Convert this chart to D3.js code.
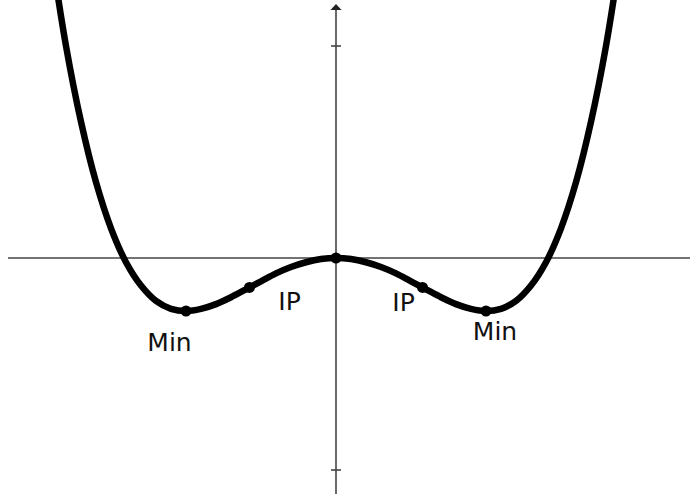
<!DOCTYPE html>
<html><head><meta charset="utf-8">
<script src="https://cdn.jsdelivr.net/npm/d3@7"></script>
<style>html,body{margin:0;padding:0;background:#fff;}svg{display:block;}</style>
</head><body>
<script>
// curve sample points (x, y in plot units)
const curveX = [-1.9,-1.8,-1.7,-1.6,-1.5,-1.4,-1.3,-1.2,-1.1,-1.0,-0.9,-0.8,-0.7,-0.6,-0.5,-0.4,-0.3,-0.2,-0.1,0,
                0.1,0.2,0.3,0.4,0.5,0.6,0.7,0.8,0.9,1.0,1.1,1.2,1.3,1.4,1.5,1.6,1.7,1.8,1.9];
const curveY = [5.8,4.0,2.57,1.43,0.56,-0.08,-0.52,-0.81,-0.96,-1.0,-0.96,-0.87,-0.74,-0.59,-0.44,-0.29,-0.17,-0.08,-0.02,0,
                -0.02,-0.08,-0.17,-0.29,-0.44,-0.59,-0.74,-0.87,-0.96,-1.0,-0.96,-0.81,-0.52,-0.08,0.56,1.43,2.57,4.0,5.8];
// marked points
const markX = [-1, -0.577, 0, 0.577, 1];
const markY = [-1, -0.556, 0, -0.556, -1];
// labels
const labelText = ["Min", "IP", "IP", "Min"];
const labelX = [-1.11, -0.31, 0.45, 1.06];
const labelY = [-1.76, -0.98, -1.0, -1.55];
const yTicks = [-4, 4];

const W = 690, H = 494;
const svg = d3.select("body").append("svg").attr("width", W).attr("height", H);
const x = d3.scaleLinear().domain([-2.24, 2.36]).range([0, 690]);
const y = d3.scaleLinear().domain([4.868, -4.453]).range([0, 494]);

const axisColor = "#444";
svg.append("line").attr("x1", 8).attr("x2", W).attr("y1", y(0)).attr("y2", y(0))
  .attr("stroke", axisColor).attr("stroke-width", 1.6);
svg.append("line").attr("x1", x(0)).attr("x2", x(0)).attr("y1", 8).attr("y2", H)
  .attr("stroke", axisColor).attr("stroke-width", 1.6);
svg.append("path").attr("d", `M${x(0)},4 L${x(0)-5.5},10 L${x(0)+5.5},10 Z`).attr("fill", "#222");
svg.selectAll(".tick").data(yTicks).enter().append("line")
  .attr("x1", x(0)-5).attr("x2", x(0)+5).attr("y1", d => y(d)).attr("y2", d => y(d))
  .attr("stroke", axisColor).attr("stroke-width", 1.6);

const pts = curveX.map((v, i) => [v, curveY[i]]);
const line = d3.line().x(d => x(d[0])).y(d => y(d[1])).curve(d3.curveCatmullRom);
svg.append("path").attr("d", line(pts)).attr("fill", "none").attr("stroke", "#000")
  .attr("stroke-width", 6.5).attr("stroke-linecap", "round");

svg.selectAll(".pt").data(markX).enter().append("circle")
  .attr("cx", d => x(d)).attr("cy", (d, i) => y(markY[i])).attr("r", 5.5).attr("fill", "#000");

svg.selectAll(".lbl").data(labelText).enter().append("text")
  .attr("x", (d, i) => x(labelX[i])).attr("y", (d, i) => y(labelY[i]))
  .attr("text-anchor", "middle")
  .attr("font-family", "DejaVu Sans, sans-serif").attr("font-size", 25).attr("fill", "#111")
  .text(d => d);
</script>
</body></html>
